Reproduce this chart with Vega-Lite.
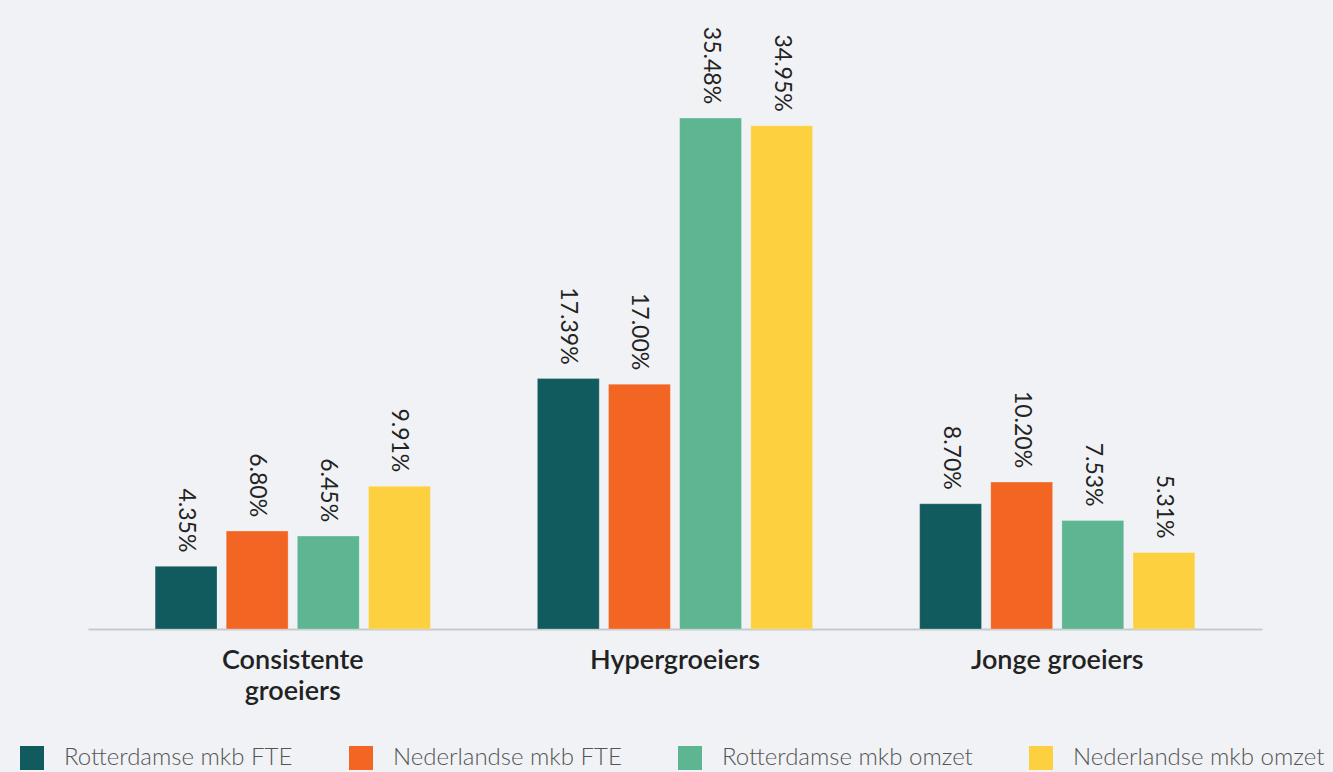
{
  "$schema": "https://vega.github.io/schema/vega-lite/v6.json",
  "autosize": "none",
  "width": 1174,
  "height": 576,
  "padding": {"left": 88, "top": 53, "right": 71, "bottom": 143},
  "background": "#f0f2f5",
  "config": {
    "view": {"stroke": null},
    "font": "Lato"
  },
  "data": {
    "values": [
      {"groep": "Consistente groeiers", "reeks": "Rotterdamse mkb FTE", "aandeel": 0.0435},
      {"groep": "Consistente groeiers", "reeks": "Nederlandse mkb FTE", "aandeel": 0.0680},
      {"groep": "Consistente groeiers", "reeks": "Rotterdamse mkb omzet", "aandeel": 0.0645},
      {"groep": "Consistente groeiers", "reeks": "Nederlandse mkb omzet", "aandeel": 0.0991},
      {"groep": "Hypergroeiers", "reeks": "Rotterdamse mkb FTE", "aandeel": 0.1739},
      {"groep": "Hypergroeiers", "reeks": "Nederlandse mkb FTE", "aandeel": 0.1700},
      {"groep": "Hypergroeiers", "reeks": "Rotterdamse mkb omzet", "aandeel": 0.3548},
      {"groep": "Hypergroeiers", "reeks": "Nederlandse mkb omzet", "aandeel": 0.3495},
      {"groep": "Jonge groeiers", "reeks": "Rotterdamse mkb FTE", "aandeel": 0.0870},
      {"groep": "Jonge groeiers", "reeks": "Nederlandse mkb FTE", "aandeel": 0.1020},
      {"groep": "Jonge groeiers", "reeks": "Rotterdamse mkb omzet", "aandeel": 0.0753},
      {"groep": "Jonge groeiers", "reeks": "Nederlandse mkb omzet", "aandeel": 0.0531}
    ]
  },
  "encoding": {
    "x": {
      "field": "groep",
      "type": "nominal",
      "sort": null,
      "scale": {"paddingInner": 0.28, "paddingOuter": 0.1756, "align": 0.5},
      "axis": {
        "title": null,
        "labelAngle": 0,
        "domainColor": "#c8c9cc",
        "domainWidth": 2,
        "ticks": false,
        "labelPadding": 18,
        "labelFontSize": 27,
        "labelFontWeight": 600,
        "labelColor": "#222222",
        "labelLineHeight": 31,
        "labelExpr": "datum.value == 'Consistente groeiers' ? ['Consistente', 'groeiers'] : datum.value"
      }
    },
    "xOffset": {
      "field": "reeks",
      "type": "nominal",
      "sort": ["Rotterdamse mkb FTE", "Nederlandse mkb FTE", "Rotterdamse mkb omzet", "Nederlandse mkb omzet"],
      "scale": {"paddingInner": 0.13, "paddingOuter": 0}
    },
    "y": {
      "field": "aandeel",
      "type": "quantitative",
      "scale": {"domain": [0, 0.4], "nice": false},
      "axis": null
    }
  },
  "layer": [
    {
      "mark": {"type": "bar", "stroke": "#ffffff", "strokeOpacity": 0.25, "strokeWidth": 1},
      "encoding": {
        "color": {
          "field": "reeks",
          "type": "nominal",
          "sort": ["Rotterdamse mkb FTE", "Nederlandse mkb FTE", "Rotterdamse mkb omzet", "Nederlandse mkb omzet"],
          "scale": {
            "domain": ["Rotterdamse mkb FTE", "Nederlandse mkb FTE", "Rotterdamse mkb omzet", "Nederlandse mkb omzet"],
            "range": ["#115a5e", "#f26522", "#5db591", "#fcd03f"]
          },
          "legend": {
            "title": null,
            "orient": "none",
            "direction": "horizontal",
            "columns": 4,
            "legendX": -68,
            "legendY": 693,
            "symbolType": "square",
            "symbolSize": 576,
            "symbolStrokeWidth": 0,
            "symbolOpacity": 1,
            "labelFontSize": 24,
            "labelFontWeight": 300,
            "labelColor": "#555555",
            "labelOffset": 20,
            "columnPadding": 56,
            "labelLimit": 400
          }
        }
      }
    },
    {
      "mark": {
        "type": "text",
        "angle": 90,
        "align": "right",
        "baseline": "middle",
        "dx": -14,
        "fontSize": 23,
        "color": "#222222"
      },
      "encoding": {
        "text": {"field": "aandeel", "type": "quantitative", "format": ".2%"},
        "detail": {"field": "reeks"}
      }
    }
  ]
}
